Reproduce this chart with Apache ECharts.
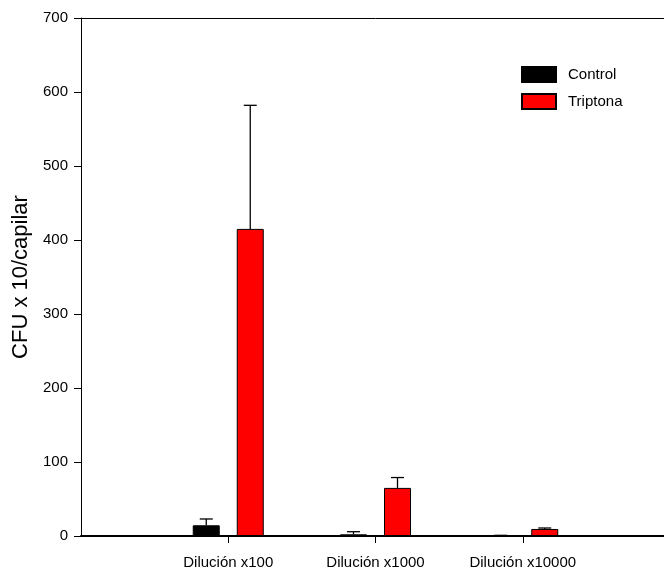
<!DOCTYPE html>
<html>
<head>
<meta charset="utf-8">
<script src="https://cdn.jsdelivr.net/npm/echarts@6/dist/echarts.min.js"></script>
<style>
  html, body { margin: 0; padding: 0; background: #fff; overflow: hidden; }
  /* el eje x sigue un poco mas alla del borde derecho, como en el original */
  #chart { width: 673px; height: 571px; }
</style>
</head>
<body>
<div id="chart"></div>
<script>
// categorias (con huecos a los lados para que el eje quede como el original)
var categorias = ['', 'Dilución x100', 'Dilución x1000', 'Dilución x10000', ''];
var control = ['-', 14.5, 2.3, 0.6, '-'];
var controlErr = ['-', 23, 5.8, 0.9, '-'];
var triptona = ['-', 415, 65, 9.5, '-'];
var triptonaErr = ['-', 582, 79, 10.8, '-'];
var yTicks = [0, 100, 200, 300, 400, 500, 600, 700];

var fuente = 'Liberation Sans, Arial, Helvetica, sans-serif';

// barra de error (solo hacia arriba con tope)
function errorData(vals, tops) {
    var out = [];
    for (var i = 0; i < vals.length; i++) {
        if (vals[i] === '-') continue;
        out.push([i, vals[i], tops[i]]);
    }
    return out;
}
function errorSeries(vals, tops, dx) {
    return {
        type: 'custom',
        silent: true,
        z: 1,
        data: errorData(vals, tops),
        renderItem: function (params, api) {
            var base = api.coord([api.value(0), api.value(1)]);
            var top = api.coord([api.value(0), api.value(2)]);
            var x = base[0] + dx;
            var st = { stroke: '#000', lineWidth: 1.3 };
            return {
                type: 'group',
                children: [
                    { type: 'line', shape: { x1: x, y1: base[1], x2: x, y2: top[1] }, style: st },
                    { type: 'line', shape: { x1: x - 6.5, y1: top[1], x2: x + 6.5, y2: top[1] }, style: st }
                ]
            };
        }
    };
}

var chart = echarts.init(document.getElementById('chart'));
var option = {
    animation: false,
    backgroundColor: '#fff',
    textStyle: { fontFamily: fuente },
    grid: { left: 81, top: 18, right: 0, bottom: 35 },
    legend: {
        orient: 'vertical',
        left: 521,
        top: 66,
        padding: 0,
        itemWidth: 34,
        itemHeight: 15,
        itemGap: 10,
        icon: 'rect',
        data: ['Control', 'Triptona'],
        textStyle: { fontSize: 15, color: '#000', fontFamily: fuente, padding: [0, 0, 0, 7] }
    },
    xAxis: [{
        type: 'category',
        data: categorias,
        boundaryGap: false,
        axisLine: { lineStyle: { color: '#000', width: 2 } },
        axisTick: { length: 7, lineStyle: { color: '#000' }, interval: function (i) { return i > 0 && i < 4; } },
        axisLabel: { color: '#000', fontSize: 15, margin: 19, interval: 0, fontFamily: fuente },
        splitLine: { show: false }
    }, {
        type: 'category',
        position: 'top',
        data: categorias,
        boundaryGap: false,
        axisLine: { lineStyle: { color: '#000', width: 1 } },
        axisTick: { show: false },
        axisLabel: { show: false }
    }],
    yAxis: {
        type: 'value',
        min: yTicks[0],
        max: yTicks[yTicks.length - 1],
        interval: 100,
        name: 'CFU x 10/capilar',
        nameLocation: 'middle',
        nameGap: 48,
        nameTextStyle: { fontSize: 22, color: '#000', fontFamily: fuente },
        axisLine: { show: true, lineStyle: { color: '#000', width: 1 } },
        axisTick: { show: true, inside: false, length: 7, lineStyle: { color: '#000' } },
        axisLabel: { color: '#000', fontSize: 15, margin: 13, fontFamily: fuente },
        splitLine: { show: false }
    },
    series: [{
        name: 'Control',
        type: 'bar',
        data: control,
        barWidth: 27,
        barGap: '63%',
        z: 2,
        itemStyle: { color: '#000', borderColor: '#000', borderWidth: 1 }
    }, {
        name: 'Triptona',
        type: 'bar',
        data: triptona,
        barWidth: 27,
        barGap: '63%',
        z: 2,
        itemStyle: { color: '#ff0000', borderColor: '#000', borderWidth: 1 }
    },
    errorSeries(control, controlErr, -22),
    errorSeries(triptona, triptonaErr, 22)
    ]
};
chart.setOption(option);
</script>
</body>
</html>
